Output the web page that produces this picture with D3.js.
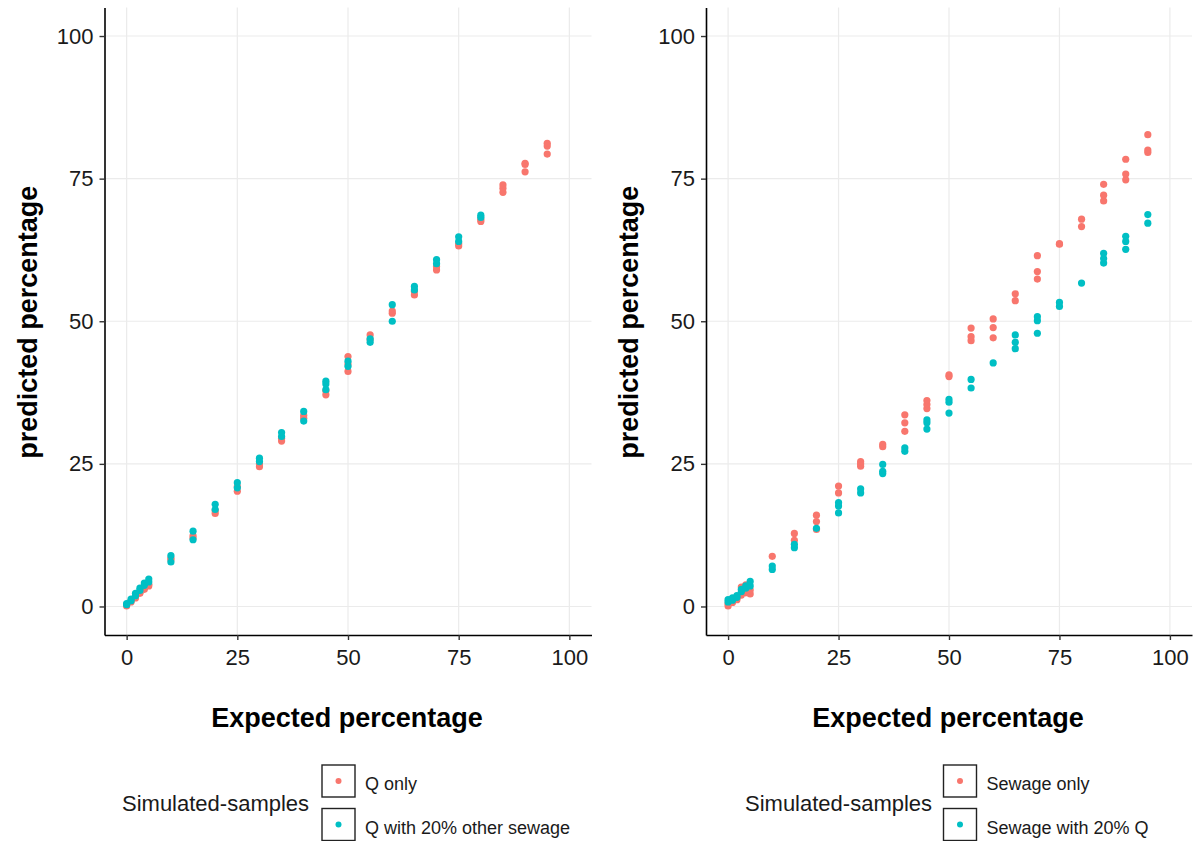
<!DOCTYPE html>
<html>
<head>
<meta charset="utf-8">
<script src="https://cdn.jsdelivr.net/npm/d3@7"></script>
<style>
  html, body { margin: 0; padding: 0; background: #ffffff; }
  svg { display: block; }
  text { font-family: "Liberation Sans", Arial, sans-serif; }
</style>
</head>
<body>
<svg id="chart" width="1194" height="841"></svg>
<script>
// Expected percentages used for the simulated mixtures
const expectedFull = [0, 1, 2, 3, 4, 5, 10, 15, 20, 25, 30, 35, 40, 45, 50, 55, 60, 65, 70, 75, 80, 85, 90, 95];
const expectedTo80 = [0, 1, 2, 3, 4, 5, 10, 15, 20, 25, 30, 35, 40, 45, 50, 55, 60, 65, 70, 75, 80];

// Predicted percentages (replicates per expected value)
const qOnly = [
  [0.1, 0.3], [0.8, 1.0], [1.5, 1.7], [2.3, 2.5], [3.0, 3.3], [3.6, 3.9],
  [8.2, 8.5], [12.0, 12.4], [16.3, 16.8], [20.2, 21.0], [24.5, 25.0], [29.0, 29.5],
  [33.0, 33.5], [37.1, 37.8], [41.2, 42.5, 43.8], [46.8, 47.6], [51.4, 51.8], [54.6, 55.2],
  [59.0, 59.6], [63.2, 63.6], [67.5, 67.9], [72.6, 73.3, 73.9], [76.2, 77.5, 77.7], [79.3, 80.7, 81.2]
];
const qWithSewage = [
  [0.3, 0.5], [1.0, 1.3], [1.9, 2.3], [2.8, 3.2], [3.7, 4.1], [4.3, 4.8],
  [7.8, 8.9], [11.7, 13.2], [17.0, 17.9], [20.8, 21.7], [25.4, 26.0], [29.8, 30.5],
  [32.5, 34.2], [38.0, 39.0, 39.5], [42.1, 43.0], [46.3, 46.9], [50.0, 52.9], [55.5, 56.1],
  [60.1, 60.8], [64.0, 64.8], [68.2, 68.6]
];
const sewageOnly = [
  [0.1, 0.5], [0.7, 1.0], [1.2, 1.5], [2.0, 3.4], [2.4, 3.8], [2.2, 2.9],
  [8.8], [11.6, 12.8], [13.5, 14.9, 16.0], [19.9, 21.1], [24.6, 25.0, 25.4], [28.0, 28.4],
  [30.7, 32.2, 33.6], [34.7, 35.4, 36.1], [40.3, 40.6], [46.6, 47.3, 48.8], [47.1, 48.9, 50.4], [53.6, 54.8],
  [57.4, 58.7, 61.5], [63.5, 63.6], [66.6, 67.9], [71.1, 72.1, 74.0], [74.8, 75.8, 78.4], [79.6, 80.0, 82.7]
];
const sewageWithQ = [
  [0.8, 1.2], [1.1, 1.5], [1.6, 1.9], [2.6, 3.0], [3.2, 3.6], [3.6, 4.4],
  [6.5, 7.1], [10.3, 10.9], [13.7], [16.4, 17.6, 18.2], [19.9, 20.6], [23.3, 23.7, 24.9],
  [27.2, 27.8], [31.1, 32.2, 32.7], [33.9, 35.8, 36.3], [38.3, 39.8], [42.7], [45.2, 46.3, 47.6],
  [47.9, 50.1, 50.8], [52.6, 53.3], [56.7], [60.2, 61.0, 61.9], [62.6, 64.0, 64.9], [67.2, 68.7]
];

const tickValues = [0, 25, 50, 75, 100];
const legendTitle = "Simulated-samples";
const xTitle = "Expected percentage";
const yTitle = "predicted percentage";
const seriesColors = ["#F8766D", "#00BFC4"];

const panels = [
  {
    left: 104.5, right: 591.5,
    series: [
      { name: "Q only", expected: expectedFull, values: qOnly },
      { name: "Q with 20% other sewage", expected: expectedTo80, values: qWithSewage }
    ],
    legendX: 122, keyX: 322
  },
  {
    left: 706, right: 1192,
    series: [
      { name: "Sewage only", expected: expectedFull, values: sewageOnly },
      { name: "Sewage with 20% Q", expected: expectedFull, values: sewageWithQ }
    ],
    legendX: 745, keyX: 943.5
  }
];

const plotTop = 7.5, plotBottom = 635;
const svg = d3.select("#chart");

panels.forEach(p => {
  const x = d3.scaleLinear().domain([-5, 105]).range([p.left, p.right]);
  const y = d3.scaleLinear().domain([-5, 105]).range([plotBottom, plotTop]);
  const g = svg.append("g");

  // major grid lines
  g.append("g").selectAll("line").data(tickValues).join("line")
    .attr("x1", d => x(d)).attr("x2", d => x(d))
    .attr("y1", plotTop).attr("y2", plotBottom)
    .attr("stroke", "#ebebeb").attr("stroke-width", 1.2);
  g.append("g").selectAll("line").data(tickValues).join("line")
    .attr("x1", p.left).attr("x2", p.right)
    .attr("y1", d => y(d)).attr("y2", d => y(d))
    .attr("stroke", "#ebebeb").attr("stroke-width", 1.2);

  // points: first series underneath, second on top
  p.series.forEach((s, si) => {
    const pts = [];
    s.expected.forEach((e, i) => s.values[i].forEach(v => pts.push([e, v])));
    g.append("g").selectAll("circle").data(pts).join("circle")
      .attr("cx", d => x(d[0])).attr("cy", d => y(d[1]))
      .attr("r", 3.6).attr("fill", seriesColors[si]);
  });

  // axes
  const xAxis = g.append("g").attr("transform", `translate(0,${plotBottom})`)
    .call(d3.axisBottom(x).tickValues(tickValues).tickSize(5).tickSizeOuter(0).tickPadding(9));
  const yAxis = g.append("g").attr("transform", `translate(${p.left},0)`)
    .call(d3.axisLeft(y).tickValues(tickValues).tickSize(5).tickSizeOuter(0).tickPadding(6));
  [xAxis, yAxis].forEach(a => {
    a.select(".domain").attr("stroke", "#000").attr("stroke-width", 1.6);
    a.selectAll(".tick line").attr("stroke", "#333").attr("stroke-width", 1.4);
    a.selectAll(".tick text").attr("fill", "#1a1a1a")
      .style("font-size", "22px").style("font-family", "'Liberation Sans', Arial, sans-serif");
  });

  // axis titles
  g.append("text")
    .attr("x", (p.left + p.right) / 2 - 1).attr("y", 727)
    .attr("text-anchor", "middle")
    .style("font-size", "27px").style("font-weight", "bold").attr("fill", "#000")
    .text(xTitle);
  g.append("text")
    .attr("transform", `translate(${p.left - 68},${(plotTop + plotBottom) / 2 + 1}) rotate(-90)`)
    .attr("text-anchor", "middle")
    .style("font-size", "27px").style("font-weight", "bold").attr("fill", "#000")
    .text(yTitle);

  // legend
  const lg = g.append("g");
  lg.append("text")
    .attr("x", p.legendX).attr("y", 811)
    .style("font-size", "22px").attr("fill", "#1a1a1a")
    .text(legendTitle);
  const keyTops = [765, 808.5];
  p.series.forEach((s, si) => {
    lg.append("rect")
      .attr("x", p.keyX).attr("y", keyTops[si])
      .attr("width", 33).attr("height", 32)
      .attr("fill", "#fff").attr("stroke", "#222").attr("stroke-width", 1.4);
    lg.append("circle")
      .attr("cx", p.keyX + 16.5).attr("cy", keyTops[si] + 16)
      .attr("r", 3).attr("fill", seriesColors[si]);
    lg.append("text")
      .attr("x", p.keyX + 43).attr("y", keyTops[si] + 25)
      .style("font-size", "18px").attr("fill", "#1a1a1a")
      .text(s.name);
  });
});
</script>
</body>
</html>
